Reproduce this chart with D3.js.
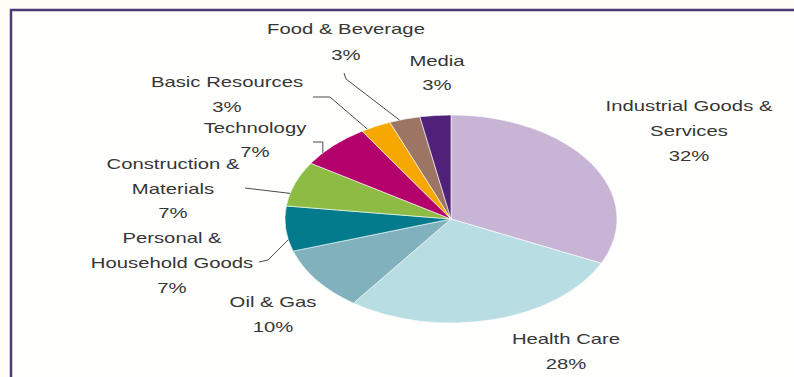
<!DOCTYPE html>
<html>
<head>
<meta charset="utf-8">
<script src="https://cdn.jsdelivr.net/npm/d3@7"></script>
<style>
  html, body { margin: 0; padding: 0; background: #fffef6; }
  svg { display: block; }
</style>
</head>
<body>
<svg id="chart" width="794" height="377"></svg>
<script>
// Sector weights, clockwise from 12 o'clock
const categories = [
  "Industrial Goods & Services",
  "Health Care",
  "Oil & Gas",
  "Personal & Household Goods",
  "Construction & Materials",
  "Technology",
  "Basic Resources",
  "Food & Beverage",
  "Media"
];
const shares = [32, 28, 10, 7, 7, 7, 3, 3, 3];

// Label text, one entry per line (the percentage line is added from shares)
const labelLines = [
  ["Industrial Goods &", "Services"],
  ["Health Care"],
  ["Oil & Gas"],
  ["Personal &", "Household Goods"],
  ["Construction &", "Materials"],
  ["Technology"],
  ["Basic Resources"],
  ["Food & Beverage"],
  ["Media"]
];

const palette = [
  "#c8b4d4", "#b8dde2", "#80b1bd", "#047b8c", "#8dbc45",
  "#b3006a", "#f7a800", "#9c7564", "#4f2179"
];

// Layout
const W = 794, H = 377;
const cx = 451, cy = 219;
const ry = 104, rx = 166;
const sx = rx / ry;          // horizontal stretch of the whole drawing
const textStretch = 1.45;

// Label placement: centre x, first baseline, line height
const labelPos = [
  { x: 689, y: 111, lh: 25 },
  { x: 566, y: 344, lh: 24.5 },
  { x: 273, y: 307, lh: 25 },
  { x: 172, y: 243, lh: 25 },
  { x: 173, y: 169, lh: 24.5 },
  { x: 255, y: 133, lh: 24 },
  { x: 227, y: 87,  lh: 25 },
  { x: 346, y: 34,  lh: 26 },
  { x: 437, y: 66,  lh: 23.5 }
];

// Leader lines: fixed points near the label, then a point on the slice rim
// at fraction t of the slice's angular span. "bracket" turns a right angle.
const leaders = {
  "Food & Beverage": { pts: [[344, 73], [346, 79]], t: 0.33 },
  "Basic Resources": { pts: [[313, 97], [330, 97]], t: 0.2 },
  "Technology": { pts: [[313, 142]], t: 0.28, bracket: true },
  "Construction & Materials": { pts: [[245, 188]], t: 0.28 },
  "Personal & Household Goods": { pts: [[259, 262], [268, 260]], t: 0.26 }
};

const svg = d3.select("#chart");

// Page / frame
svg.append("rect").attr("x", 0).attr("y", 0).attr("width", W).attr("height", H)
  .attr("fill", "#fffef4");
svg.append("rect")
  .attr("x", 11).attr("y", 10)
  .attr("width", W + 20).attr("height", H + 20)
  .attr("fill", "#fffffd")
  .attr("stroke", "#4b3a78")
  .attr("stroke-width", 2.5);

const data = categories.map((c, i) => ({ name: c, value: shares[i], color: palette[i], i }));

const pie = d3.pie().sort(null).value(d => d.value).startAngle(0).endAngle(2 * Math.PI);
const arcs = pie(data);
const arc = d3.arc().innerRadius(0).outerRadius(ry);

const g = svg.append("g")
  .attr("transform", `translate(${cx},${cy}) scale(${sx},1)`);

g.selectAll("path.slice")
  .data(arcs)
  .join("path")
  .attr("class", "slice")
  .attr("d", arc)
  .attr("fill", d => d.data.color)
  .attr("stroke", "#ffffff")
  .attr("stroke-width", 0.6)
  .attr("vector-effect", "non-scaling-stroke");

// Point on the (stretched) rim for a given angle
function rimPoint(a) {
  return [cx + rx * Math.sin(a), cy - ry * Math.cos(a)];
}

// Leader lines
const line = d3.line();
arcs.forEach(a => {
  const L = leaders[a.data.name];
  if (!L) return;
  const ang = a.startAngle + (a.endAngle - a.startAngle) * L.t;
  const end = rimPoint(ang);
  let pts = L.pts.slice();
  if (L.bracket) {
    const last = pts[pts.length - 1];
    pts.push([end[0], last[1]]);
  }
  pts.push(end);
  svg.append("path")
    .attr("d", line(pts))
    .attr("fill", "none")
    .attr("stroke", "#4a4a4a")
    .attr("stroke-width", 1);
});

// Labels
const labels = svg.append("g")
  .attr("font-family", "'Liberation Sans', Arial, sans-serif")
  .attr("font-size", 14)
  .attr("fill", "#363636");

data.forEach((d, i) => {
  const p = labelPos[i];
  const lines = labelLines[i].concat([`${d.value}%`]);
  lines.forEach((t, k) => {
    labels.append("text")
      .attr("transform", `translate(${p.x},${p.y + k * p.lh}) scale(${textStretch},1)`)
      .attr("text-anchor", "middle")
      .text(t);
  });
});
</script>
</body>
</html>
